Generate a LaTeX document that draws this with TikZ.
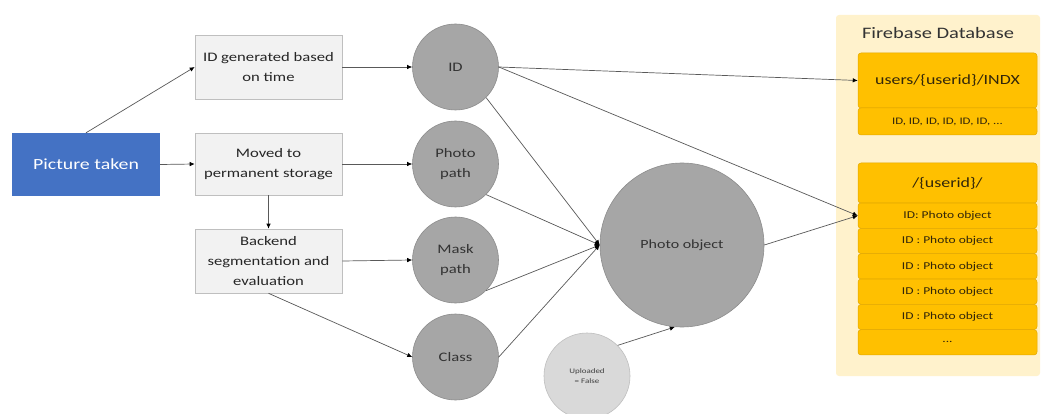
\documentclass[tikz,border=0pt]{standalone}
\usepackage{fontspec}
\setmainfont{Carlito}[FakeStretch=1.28]
\usetikzlibrary{arrows.meta}

\definecolor{picblue}{RGB}{68,114,196}
\definecolor{stepfill}{RGB}{242,242,242}
\definecolor{stepline}{RGB}{191,191,191}
\definecolor{dotfill}{RGB}{166,166,166}
\definecolor{dotline}{RGB}{140,140,140}
\definecolor{flagfill}{RGB}{217,217,217}
\definecolor{flagline}{RGB}{191,191,191}
\definecolor{fbpanel}{RGB}{255,242,204}
\definecolor{fbcell}{RGB}{255,192,0}
\definecolor{fbline}{RGB}{226,168,0}
\definecolor{fbtext}{RGB}{50,38,10}
\definecolor{wire}{RGB}{89,89,89}

\tikzset{
  stepbox/.style={rectangle, draw=stepline, fill=stepfill, line width=0.6pt,
    minimum width=147pt, inner sep=2pt, align=center, text=black!85,
    font=\fontsize{13}{20}\selectfont},
  datum/.style={circle, draw=dotline, fill=dotfill, line width=0.6pt,
    minimum size=86pt, inner sep=0pt, align=center, text=black!80,
    font=\fontsize{13}{20}\selectfont},
  fbcellbox/.style={rectangle, rounded corners=3pt, draw=fbline, fill=fbcell,
    line width=0.5pt, minimum width=179pt, inner sep=0pt, text=fbtext},
  conn/.style={draw=wire, line width=0.7pt,
    -{Latex[length=5pt,width=4.5pt,color=black]}},
}

\begin{document}
\begin{tikzpicture}[x=1pt, y=-1pt]
\useasboundingbox[fill=white] (0,0) rectangle (1044,414);

% Firebase panel
\fill[fbpanel, rounded corners=3pt] (836,15) rectangle (1040,376);
\node[font=\fontsize{16}{18}\selectfont, text=black!80] (fbtitle) at (938,33) {Firebase Database};

% index entry
\node[fbcellbox, minimum height=55pt, font=\fontsize{14}{16}\selectfont] (users) at (947.5,80.5) {users/\{userid\}/INDX};
\node[fbcellbox, minimum height=27pt, font=\fontsize{10}{12}\selectfont] (idlist) at (947.5,121.5) {ID, ID, ID, ID, ID, ID, ...};

% photo objects entry
\node[fbcellbox, minimum height=40pt, font=\fontsize{14}{16}\selectfont] (uid) at (947.5,183) {/\{userid\}/};
\foreach \i/\t in {1/{ID: Photo object},2/{ID : Photo object},3/{ID : Photo object},4/{ID : Photo object},5/{ID : Photo object},6/{...}}{
  \node[fbcellbox, minimum height=25.3pt, font=\fontsize{10.5}{12}\selectfont] (row\i) at (947.5,{203+25.33*(\i-0.5)}) {\t};
}

% process steps
\node[rectangle, fill=picblue, minimum width=148pt, minimum height=63pt,
  text=white, font=\fontsize{15.5}{18}\selectfont] (pic) at (86,164.5) {Picture taken};
\node[stepbox, minimum height=64pt] (idgen) at (268.5,67) {ID generated based\\on time};
\node[stepbox, minimum height=62pt] (moved) at (268.5,164) {Moved to\\permanent storage};
\node[stepbox, minimum height=64pt] (backend) at (268.5,261) {Backend\\segmentation and\\evaluation};

% data items
\node[datum] (id) at (455.5,67) {ID};
\node[datum] (ppath) at (455.5,164) {Photo\\path};
\node[datum] (mpath) at (455.5,260) {Mask\\path};
\node[datum] (class) at (455.5,357) {Class};
\node[datum, minimum size=164pt, font=\fontsize{12.5}{15}\selectfont] (photo) at (682,245) {Photo object};
\node[circle, draw=flagline, fill=flagfill, line width=0.6pt, minimum size=86pt,
  inner sep=0pt, align=center, text=black!75, font=\fontsize{7}{10}\selectfont] (flag) at (587,376) {Uploaded\\= False};

% connectors
\draw[conn] (pic.north) -- (idgen.west);
\draw[conn] (pic.east) -- (moved.west);
\draw[conn] (moved.south) -- (backend.north);
\draw[conn] (idgen.east) -- (id.west);
\draw[conn] (moved.east) -- (ppath.west);
\draw[conn] (backend.east) -- (mpath.west);
\draw[conn] (backend.south) -- (class.west);
\draw[conn] (id.east) -- (users.west);
\draw[conn] (id.east) -- (row1.west);
\draw[conn] (id.-45) -- (photo.west);
\draw[conn] (ppath.-45) -- (photo.west);
\draw[conn] (mpath.-45) -- (photo.west);
\draw[conn] (class.east) -- (photo.west);
\draw[conn] (photo.east) -- (row1.west);
\draw[conn] (flag.45) -- (photo.265);
\end{tikzpicture}
\end{document}
